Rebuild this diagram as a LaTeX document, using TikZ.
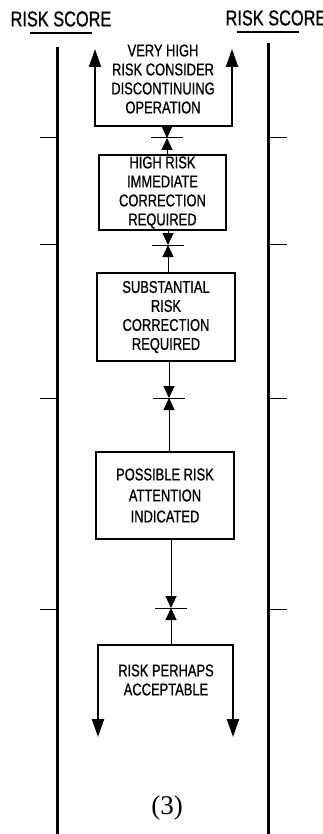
\documentclass[tikz,border=0pt]{standalone}
\usepackage{fontspec}
\setsansfont[FakeStretch=0.76,FakeBold=0.8]{Liberation Sans}
\setmainfont{Liberation Serif}
\usetikzlibrary{arrows.meta}

\tikzset{
  scaleline/.style={line width=3pt},
  tickline/.style={line width=1pt},
  head/.style={inner sep=0pt, font=\sffamily\fontsize{21.5}{22}\selectfont},
  leveltext/.style={align=center, inner sep=0pt, font=\sffamily\fontsize{17}{19}\selectfont},
  levelbox/.style={leveltext, draw, line width=2pt},
  pointer/.style={-{Triangle[length=12pt,width=11pt]}, line width=1pt},
  bracket/.style={{Triangle[length=18pt,width=12pt]}-{Triangle[length=18pt,width=12pt]}, line width=2pt}
}

\begin{document}
\begin{tikzpicture}[x=1pt,y=-1pt]
    \useasboundingbox (0,0) rectangle (322,834);
    % the two score scales
    \node[head] (lhead) at (61,19) {RISK SCORE};
    \node[head] (rhead) at (276,18) {RISK SCORE};
    \draw[line width=2pt] (30,33) -- (92,33) (237,32) -- (299,32);
    \draw[scaleline] (57,47) -- (57,834) (268,43) -- (268,834);
    \foreach \y in {138,244,398,609}
        \draw[tickline] (40,\y) -- (57,\y) (268,\y) -- (287,\y);

    % boundaries between the levels
    \coordinate (t1) at (167,138);
    \coordinate (t2) at (168,245);
    \coordinate (t3) at (169,398);
    \coordinate (t4) at (171,608);
    \foreach \t in {t1,t2,t3,t4}
        \draw[tickline] ([xshift=-16pt]\t) -- ([xshift=16pt]\t);

    % levels
    \node[leveltext] (vhigh) at (163,79) {VERY HIGH\\RISK CONSIDER\\DISCONTINUING\\OPERATION};
    \node[levelbox, minimum width=127pt, minimum height=75pt] (high) at (162.5,192.5)
        {HIGH RISK\\IMMEDIATE\\CORRECTION\\REQUIRED};
    \node[levelbox, minimum width=138pt, minimum height=88pt] (subst) at (166,317)
        {SUBSTANTIAL\\RISK\\CORRECTION\\REQUIRED};
    \node[levelbox, minimum width=138pt, minimum height=87pt] (poss) at (165,495.5)
        {POSSIBLE RISK\\[2pt]ATTENTION\\[2pt]INDICATED};
    \node[leveltext] (perhaps) at (166,680) {RISK PERHAPS\\ACCEPTABLE};
    \node[font=\fontsize{27}{27}\selectfont] (num) at (167,808) {(3)};

    % brackets and pointers
    \coordinate (vjoin) at (167,126);
    \coordinate (pjoin) at (171,645);
    \draw[bracket] (95,49) |- (vjoin) -| (232,49);
    \draw[pointer] (vjoin) -- (t1);
    \draw[pointer] (high.north -| t1) -- (t1);
    \draw[pointer] (high.south -| t2) -- (t2);
    \draw[pointer] (subst.north -| t2) -- (t2);
    \draw[pointer] (subst.south -| t3) -- (t3);
    \draw[pointer] (poss.north -| t3) -- (t3);
    \draw[pointer] (poss.south -| t4) -- (t4);
    \draw[pointer] (pjoin) -- (t4);
    \draw[bracket] (98,737) |- (pjoin) -| (233,737);
\end{tikzpicture}
\end{document}
